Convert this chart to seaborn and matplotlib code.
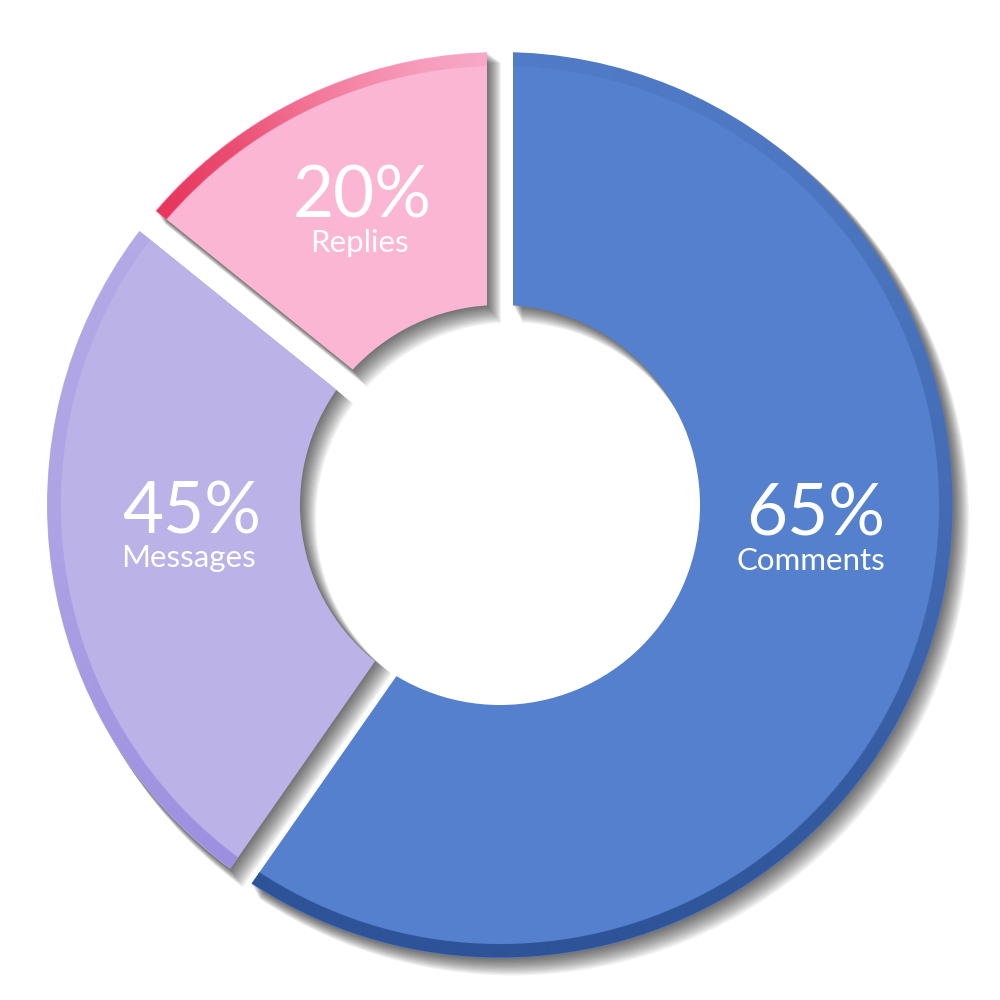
import numpy as np
import matplotlib
matplotlib.use('Agg')
import matplotlib.pyplot as plt
from matplotlib.patches import Wedge
import seaborn as sns

labels = ['Comments', 'Messages', 'Replies']
pct_labels = ['65%', '45%', '20%']
# share of the ring each segment takes up
shares = [59.7, 26.1, 14.2]
colors = ['#5580CD', '#BBB3E8', '#FBB6D4']
rim_colors = ['#2C5195', '#9C8EE0', '#E8365C']

sns.set_theme(style='white')
plt.rcParams['font.family'] = ['Lato', 'DejaVu Sans']

R_OUT, R_IN = 453, 200   # axes units are pixels
HALF_GAP = 13
RIM = 14

fig = plt.figure(figsize=(10, 10), dpi=100, facecolor='white')
ax = fig.add_axes([0, 0, 1, 1])

spans = np.array(shares) / sum(shares) * 360
explode = HALF_GAP / np.sin(np.radians(spans / 2))
big = R_OUT + 45


def ring(cx, cy, grow=0):
    return Wedge((cx, cy), R_OUT + grow, 0, 360, width=R_OUT - R_IN + 2 * grow,
                 transform=ax.transData)


# soft drop shadow: stacked offset copies, each a bit wider
for s in range(1, 15):
    grow = 0.25 * s
    sw, _ = ax.pie(shares, radius=big, explode=explode - grow, center=(0.9 * s, -s),
                   startangle=90, counterclock=False, colors=['black'] * 3,
                   wedgeprops=dict(alpha=0.05, linewidth=0))
    clip = ring(0.9 * s, -s, grow)
    for w in sw:
        w.set_clip_on(True)
        w.set_clip_path(clip)
        w.set_zorder(1)

wedges, _ = ax.pie(shares, radius=big, explode=explode, startangle=90,
                   counterclock=False, colors=colors, wedgeprops=dict(linewidth=0))
main_clip = ring(0, 0)
for w in wedges:
    w.set_clip_on(True)
    w.set_clip_path(main_clip)
    w.set_zorder(2)

# darker rim along the outer edge, fading with angle
grid = np.linspace(-R_OUT, R_OUT, 2 * R_OUT + 1)
X, Y = np.meshgrid(grid, grid)
rr = np.hypot(X, Y)
theta = np.degrees(np.arctan2(X, Y)) % 360
band = np.clip(rr - (R_OUT - RIM), 0, 1) * np.clip(R_OUT - rr + 0.5, 0, 1)

rim_keys = [
    ([0, 40, 90, 130, 165, 216], [0.1, 0.18, 0.42, 0.8, 0.95, 0.95]),
    ([214, 240, 270, 310], [1.0, 0.75, 0.4, 0.25]),
    ([305, 312, 324, 337, 350, 360], [1.0, 1.0, 0.8, 0.45, 0.2, 0.08]),
]
for w, c, (ks, vs) in zip(wedges, rim_colors, rim_keys):
    img = np.zeros(X.shape + (4,))
    img[..., :3] = matplotlib.colors.to_rgb(c)
    img[..., 3] = np.interp(theta, ks, vs) * band
    im = ax.imshow(img, extent=(-R_OUT, R_OUT, -R_OUT, R_OUT), origin='lower',
                   interpolation='bilinear', zorder=3)
    im.set_clip_path(w)

pct_pos = [(316, -31), (-308, -29), (-138, 288)]
lab_pos = [(311, -65), (-311, -62), (-141, 253)]
for p, l, pp, lp in zip(pct_labels, labels, pct_pos, lab_pos):
    ax.text(pp[0], pp[1], p, color='white', fontsize=51, ha='center', va='baseline', zorder=5)
    ax.text(lp[0], lp[1], l, color='white', fontsize=22.5, ha='center', va='baseline', zorder=5)

ax.set_xlim(-500, 500)
ax.set_ylim(-495, 505)
ax.set_aspect('equal')
ax.axis('off')

fig.savefig('out.png', dpi=100, facecolor='white')
